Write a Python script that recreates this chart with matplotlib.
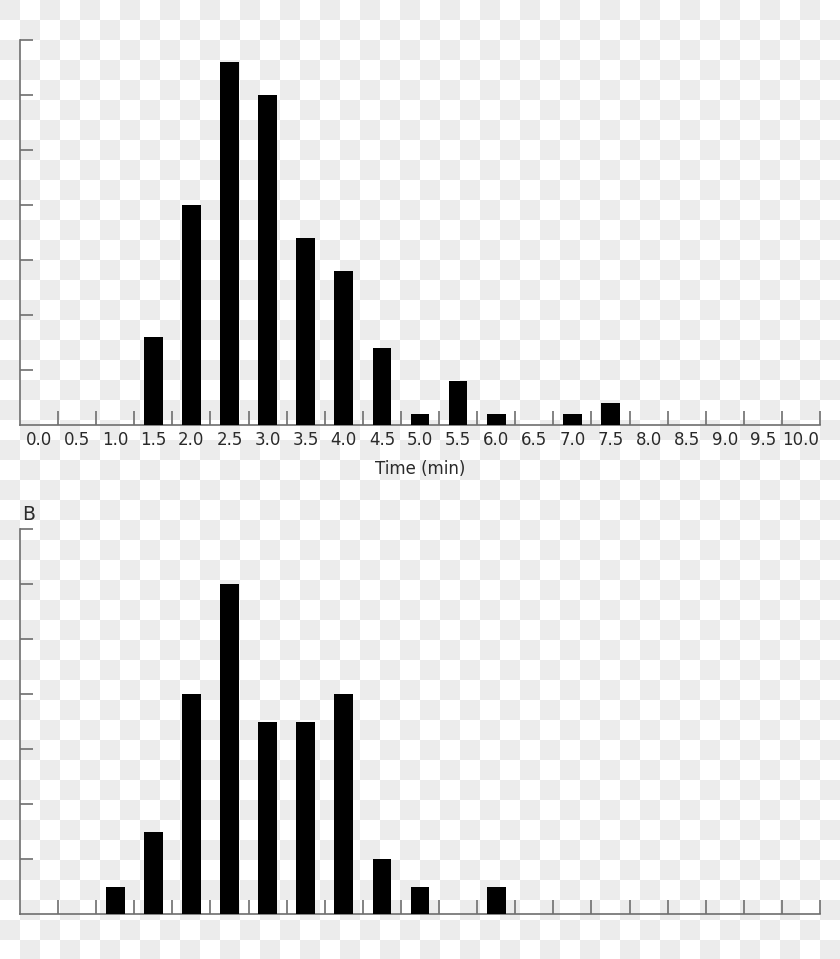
import numpy as np
import matplotlib.pyplot as plt

# time bins (minutes) and counts per bin
time_labels = ['0.0', '0.5', '1.0', '1.5', '2.0', '2.5', '3.0', '3.5', '4.0', '4.5', '5.0',
               '5.5', '6.0', '6.5', '7.0', '7.5', '8.0', '8.5', '9.0', '9.5', '10.0']
counts_a = [0, 0, 0, 8, 20, 33, 30, 17, 14, 7, 1, 4, 1, 0, 1, 2, 0, 0, 0, 0, 0]
counts_b = [0, 0, 1, 3, 8, 12, 7, 7, 8, 2, 1, 0, 1, 0, 0, 0, 0, 0, 0, 0, 0]

W, H = 840, 959
axis_grey = '#6e6e6e'

fig = plt.figure(figsize=(W / 100, H / 100), dpi=100)

# light checkered backdrop, kept below the axes
yy, xx = np.mgrid[0:H, 0:W]
board = np.where(((yy // 20) + (xx // 20)) % 2 == 0, 0.925, 1.0)
fig.figimage(board, cmap='gray', vmin=0, vmax=1, zorder=-5)

x = np.arange(len(time_labels))
edges = np.arange(len(time_labels)) + 0.5


def style_axes(ax, ymax, ystep, show_labels):
    ax.patch.set_alpha(0)
    ax.set_zorder(2)
    ax.set_xlim(-0.5, len(time_labels) - 0.5)
    ax.set_ylim(0, ymax)
    for s in ['top', 'right']:
        ax.spines[s].set_visible(False)
    for s in ['left', 'bottom']:
        ax.spines[s].set_color(axis_grey)
        ax.spines[s].set_linewidth(1.2)
    ax.set_yticks(np.arange(ystep, ymax + 0.1, ystep))
    ax.set_yticklabels([])
    ax.tick_params(axis='y', direction='in', length=9.5, width=1.2, color=axis_grey)
    # labels sit under bin centres, tick marks on the bin edges
    ax.set_xticks(x)
    ax.set_xticks(edges, minor=True)
    ax.tick_params(axis='x', which='major', length=0, pad=4, labelsize=12, labelcolor='#2a2a2a')
    ax.tick_params(axis='x', which='minor', direction='in', length=10, width=1.2, color=axis_grey)
    if show_labels:
        ax.set_xticklabels(time_labels)
    else:
        ax.set_xticklabels([])


ax1 = fig.add_axes([20 / W, 1 - 425 / H, 800 / W, 385 / H])
ax1.bar(x, counts_a, width=0.49, color='black', linewidth=0, zorder=3)
style_axes(ax1, 35, 5, True)
ax1.set_xlabel('Time (min)', fontsize=12, color='#2a2a2a', labelpad=8)

ax2 = fig.add_axes([20 / W, 1 - 914 / H, 800 / W, 385 / H])
ax2.bar(x, counts_b, width=0.49, color='black', linewidth=0, zorder=3)
style_axes(ax2, 14, 2, False)
fig.text(22 / W, 1 - 514 / H, 'B', fontsize=13.5, color='#2a2a2a', ha='left', va='center')

fig.savefig('out.png', dpi=100)
